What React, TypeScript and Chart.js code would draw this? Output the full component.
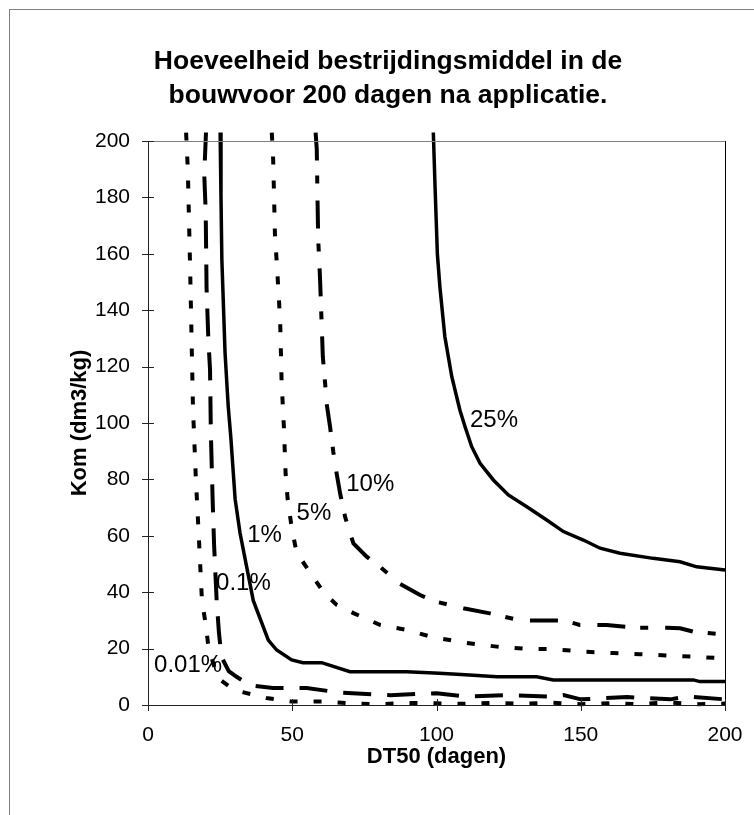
import React, { useEffect, useRef } from 'react';
import { Chart, registerables } from 'chart.js';

Chart.register(...registerables);

const FONT = '"Liberation Sans", Arial, sans-serif';

// Axis ticks
const xTickValues = [0, 50, 100, 150, 200];
const yTickValues = [0, 20, 40, 60, 80, 100, 120, 140, 160, 180, 200];

// Series: 0.01%
const dt50_001 = [13.2, 13.8, 14.6, 15.1, 15.6, 16.6, 17.7, 18.7, 20.1, 21.0, 23.5, 25.0, 29.0, 31.0, 41.0, 50, 60, 70, 80, 90, 100, 110, 120, 130, 140, 150, 160, 170, 180, 190, 200];
const kom_001 = [203, 190, 155, 130, 105, 80, 58, 37, 28, 20, 12, 9, 6, 5, 2.5, 1.2, 1.2, 0.6, 0.3, 0.7, 0.6, 0.4, 0.8, 0.4, 0.8, 0.3, 0.6, 0.3, 0.9, 0.3, 0.5];

// Series: 0.1%
const dt50_01 = [20.1, 19.5, 20.0, 20.3, 20.9, 21.5, 21.8, 22.4, 22.9, 23.8, 24.6, 25.5, 28.0, 30.7, 35.4, 43.3, 55.0, 66.6, 84.0, 100, 110.5, 124, 140, 144, 150, 166, 181, 187, 200];
const kom_01 = [203, 188, 175, 148, 130, 119, 96, 73, 57, 37, 25.5, 17, 12, 10, 7, 6, 6, 4.4, 3.5, 4.2, 3, 3.5, 3, 3.5, 2, 2.8, 2, 3, 2];

// Series: 1%
const dt50_1 = [25.0, 25.3, 25.6, 26.7, 27.8, 28.7, 30.2, 31.9, 34.2, 36.5, 41.7, 44.6, 49.8, 53.7, 60.2, 70, 80, 89.7, 101, 110, 121, 134.7, 140.5, 150, 160, 170, 180, 189, 191.3, 200];
const kom_1 = [203, 180, 158, 125, 106, 95, 73, 61, 49, 37, 23, 19.5, 16, 15, 15, 11.8, 11.8, 11.8, 11.3, 10.7, 10, 10, 8.9, 8.9, 8.9, 8.9, 8.9, 8.9, 8.3, 8.3];

// Series: 5%
const dt50_5 = [42.9, 43.4, 44.0, 44.8, 45.8, 46.3, 47.1, 47.7, 48.4, 49.8, 51.5, 56.2, 60.8, 65.4, 71.2, 80.4, 89.7, 98.8, 110.5, 120.9, 130, 140.5, 150.9, 161.3, 170.5, 181, 191.3, 200];
const kom_5 = [203, 193, 167, 154, 136.5, 115, 98.7, 82, 73, 63, 54, 47, 40, 35.5, 32.6, 28.4, 26.6, 24, 22, 20.7, 20, 19.8, 18.9, 18.4, 18, 17.5, 17, 16.5];

// Series: 10%
const dt50_10 = [58.1, 58.5, 58.8, 59.0, 59.6, 60.2, 60.6, 61.4, 61.9, 63.1, 64.2, 65.4, 66.6, 68.3, 70.0, 71.2, 75.8, 80.4, 87.3, 94.3, 100, 109.3, 118.5, 129, 144, 149.7, 159, 169.4, 179.8, 184.4, 189, 200];
const kom_10 = [203, 197, 176.7, 165, 152, 135, 123.5, 114, 107, 98.7, 90, 82, 75, 66.8, 61, 57.3, 52.6, 49, 43, 39, 36.6, 34.3, 32.5, 30, 30, 28.4, 28.4, 27.4, 27.4, 27.2, 26, 25];

// Series: 25%
const dt50_25 = [98.9, 99.5, 100.3, 101.2, 102.9, 105.3, 108.1, 109.9, 112.2, 115.1, 119.7, 124.9, 131.3, 138.2, 144, 150.9, 156.7, 163.6, 175.1, 184.4, 190.2, 200];
const kom_25 = [203, 183.8, 160, 148, 130.6, 116.4, 104.6, 98.7, 91.6, 85.7, 79.8, 74.5, 70.3, 65.6, 61.5, 58.5, 55.6, 53.8, 52, 50.8, 49, 47.9];

// Curve labels (placed in data coordinates: left edge DT50, middle Kom)
const curveLabels = ['25%', '10%', '5%', '1%', '0.1%', '0.01%'];
const curveLabelDT50 = [111.6, 68.7, 51.5, 34.4, 23.6, 2.1];
const curveLabelKom = [101, 78.4, 68, 60, 43, 14];

const zip = (xs: number[], ys: number[]) => xs.map((x, i) => ({ x, y: ys[i] }));

const axesPlugin = {
  id: 'excelAxes',
  afterDatasetsDraw(chart: any) {
    const { ctx, chartArea: a, scales } = chart;
    const xs = scales.x;
    const ys = scales.y;
    ctx.save();
    ctx.lineWidth = 1;
    // plot area top border (gray)
    ctx.strokeStyle = '#808080';
    ctx.beginPath();
    ctx.moveTo(a.left, Math.round(a.top) + 0.5);
    ctx.lineTo(a.right, Math.round(a.top) + 0.5);
    ctx.stroke();
    // right border
    ctx.strokeStyle = '#000';
    ctx.beginPath();
    ctx.moveTo(Math.round(a.right) + 0.5, a.top);
    ctx.lineTo(Math.round(a.right) + 0.5, a.bottom);
    ctx.stroke();
    // axes
    ctx.strokeStyle = '#222';
    ctx.beginPath();
    ctx.moveTo(Math.round(a.left) + 0.5, a.top);
    ctx.lineTo(Math.round(a.left) + 0.5, a.bottom + 0.5);
    ctx.moveTo(a.left, Math.round(a.bottom) + 0.5);
    ctx.lineTo(a.right, Math.round(a.bottom) + 0.5);
    // ticks crossing the axes
    for (const v of yTickValues) {
      const py = Math.round(ys.getPixelForValue(v)) + 0.5;
      ctx.moveTo(a.left - 6, py);
      ctx.lineTo(a.left + 6, py);
    }
    for (const v of xTickValues) {
      const px = Math.round(xs.getPixelForValue(v)) + 0.5;
      ctx.moveTo(px, a.bottom - 6);
      ctx.lineTo(px, a.bottom + 6);
    }
    ctx.stroke();
    // curve labels
    ctx.fillStyle = '#000';
    ctx.font = `24px ${FONT}`;
    ctx.textAlign = 'left';
    ctx.textBaseline = 'middle';
    curveLabels.forEach((t, i) => {
      ctx.fillText(t, xs.getPixelForValue(curveLabelDT50[i]), ys.getPixelForValue(curveLabelKom[i]));
    });
    ctx.restore();
  },
};

export default function App() {
  const ref = useRef<HTMLCanvasElement | null>(null);

  useEffect(() => {
    if (!ref.current) return;
    const base = {
      borderColor: '#000',
      borderWidth: 3.5,
      pointRadius: 0,
      fill: false,
      tension: 0,
      clip: { left: 2, top: 10, right: 2, bottom: 3 },
    };
    const dashed = { ...base, borderWidth: 4 };
    const chart = new Chart(ref.current, {
      type: 'line',
      data: {
        datasets: [
          { ...dashed, label: '0.01%', data: zip(dt50_001, kom_001), borderDash: [8, 16] },
          { ...dashed, label: '0.1%', data: zip(dt50_01, kom_01), borderDash: [28, 16] },
          { ...base, label: '1%', data: zip(dt50_1, kom_1) },
          { ...dashed, label: '5%', data: zip(dt50_5, kom_5), borderDash: [8, 16] },
          { ...dashed, label: '10%', data: zip(dt50_10, kom_10), borderDash: [28, 15, 8, 17] },
          { ...base, label: '25%', data: zip(dt50_25, kom_25) },
        ] as any,
      },
      options: {
        animation: false,
        responsive: false,
        events: [],
        layout: { padding: { left: 41, right: 29, top: 0, bottom: 40 } },
        plugins: {
          legend: { display: false },
          tooltip: { enabled: false },
          title: {
            display: true,
            text: ['Hoeveelheid bestrijdingsmiddel in de', 'bouwvoor 200 dagen na applicatie.'],
            color: '#000',
            font: { family: FONT, size: 26.5, weight: 'bold', lineHeight: 1.283 },
            padding: { top: 35, bottom: 28 },
          },
        },
        scales: {
          x: {
            type: 'linear',
            min: 0,
            max: 200,
            ticks: { stepSize: 50, color: '#000', font: { family: FONT, size: 21 }, padding: 18, maxRotation: 0 },
            grid: { display: false, drawTicks: false },
            border: { display: false },
            title: {
              display: true,
              text: 'DT50 (dagen)',
              color: '#000',
              font: { family: FONT, size: 22, weight: 'bold' },
              padding: { top: 0, bottom: 5 },
            },
            afterFit: (s: any) => {
              s.height = 70;
              s.paddingLeft = 0;
              s.paddingRight = 20;
            },
          },
          y: {
            type: 'linear',
            min: 0,
            max: 200,
            ticks: { stepSize: 20, color: '#000', font: { family: FONT, size: 21 }, padding: 18 },
            grid: { display: false, drawTicks: false },
            border: { display: false },
            title: {
              display: true,
              text: 'Kom (dm3/kg)',
              color: '#000',
              font: { family: FONT, size: 22, weight: 'bold' },
              padding: { top: 16, bottom: 0 },
            },
            afterFit: (s: any) => {
              s.width = 97;
              s.paddingTop = 0;
              s.paddingBottom = 0;
            },
          },
        },
      } as any,
      plugins: [axesPlugin],
    });
    return () => chart.destroy();
  }, []);

  return (
    <div
      style={{
        position: 'fixed',
        left: 9,
        top: 9,
        width: 745,
        height: 806,
        borderLeft: '1px solid #808080',
        borderTop: '1px solid #808080',
        boxSizing: 'border-box',
        background: '#fff',
      }}
    >
      <canvas ref={ref} width={744} height={805} style={{ display: 'block' }} />
    </div>
  );
}
